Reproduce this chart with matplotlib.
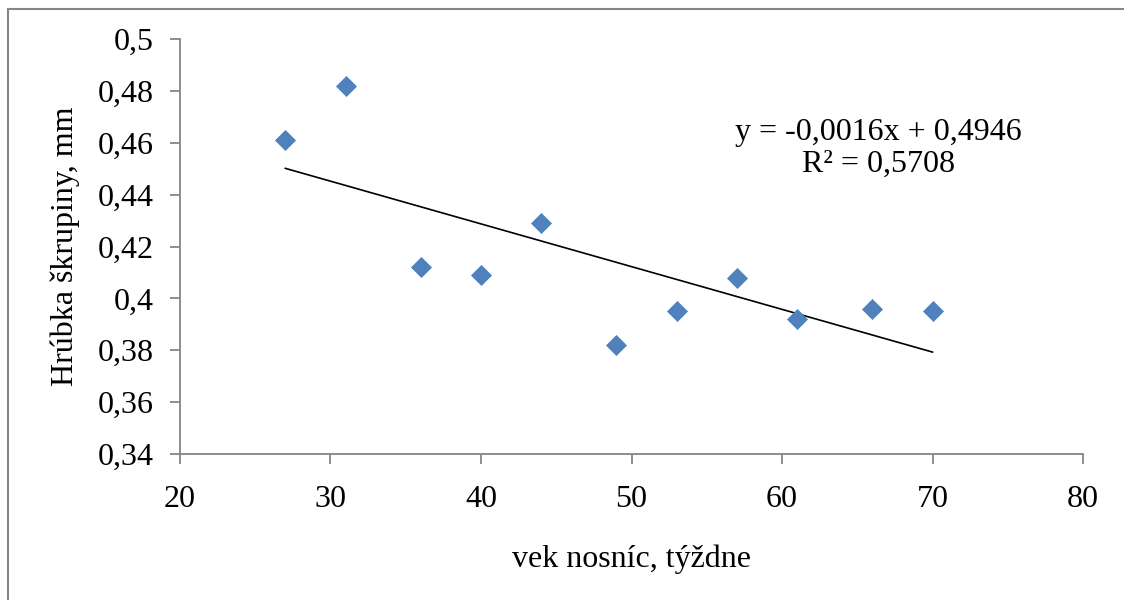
import numpy as np
import matplotlib
matplotlib.use("Agg")
import matplotlib.pyplot as plt
from matplotlib.lines import Line2D
from matplotlib.ticker import FuncFormatter

# Data
age_weeks = [27, 31, 36, 40, 44, 49, 53, 57, 61, 66, 70]
shell_thickness = [0.461, 0.482, 0.412, 0.409, 0.429, 0.382, 0.395, 0.408, 0.392, 0.396, 0.395]
x_ticks = [20, 30, 40, 50, 60, 70, 80]
y_ticks = [0.34, 0.36, 0.38, 0.40, 0.42, 0.44, 0.46, 0.48, 0.50]
equation_text = "y = -0,0016x + 0,4946\nR² = 0,5708"
x_label = "vek nosníc, týždne"
y_label = "Hrúbka škrupiny, mm"

plt.rcParams['font.family'] = ['Liberation Serif', 'DejaVu Serif']
FS = 23

fig = plt.figure(figsize=(11.24, 6.0), dpi=100)
ax = fig.add_axes([180/1124, 1-454/600, (1083-180)/1124, (454-39)/600])

x = np.array(age_weeks, dtype=float)
y = np.array(shell_thickness, dtype=float)
slope, intercept = np.polyfit(x, y, 1)
xl = np.array([x.min(), x.max()])
ax.plot(xl, slope*xl + intercept, color='black', lw=1.2, zorder=2)
ax.plot(x, y, linestyle='none', marker='D', ms=10.5, color='#4F81BD',
        markeredgecolor='#4A7EBB', markeredgewidth=0.5, zorder=3)

ax.set_xlim(20, 80)
ax.set_ylim(0.34, 0.5)
ax.set_xticks(x_ticks)
ax.set_yticks(y_ticks)

def fmt(v, pos):
    s = ('%.2f' % v).rstrip('0').rstrip('.')
    return s.replace('.', ',')
ax.yaxis.set_major_formatter(FuncFormatter(fmt))
ax.xaxis.set_major_formatter(FuncFormatter(lambda v, p: '%d' % v))

for s in ['top', 'right']:
    ax.spines[s].set_visible(False)
for s in ['left', 'bottom']:
    ax.spines[s].set_color('#868686')
    ax.spines[s].set_linewidth(1.3)
ax.tick_params(axis='both', direction='out', length=7, width=1.3, color='#868686',
               labelsize=FS, labelcolor='black')
ax.tick_params(axis='y', pad=12)
ax.tick_params(axis='x', pad=15)

ax.set_xlabel(x_label, fontsize=FS, labelpad=22)
ax.set_ylabel(y_label, fontsize=FS, labelpad=13)

ax.text(66.4, 0.4697, equation_text, ha='center', va='top', fontsize=FS,
        linespacing=1.15)

# outer frame (partially cropped in reference)
fig.add_artist(Line2D([7.5/1124, 7.5/1124], [0, 1-8.5/600], transform=fig.transFigure,
                      color='#868686', lw=1.5))
fig.add_artist(Line2D([7.5/1124, 1], [1-8.5/600, 1-8.5/600], transform=fig.transFigure,
                      color='#868686', lw=1.5))

fig.savefig('out.png', dpi=100, facecolor='white')
